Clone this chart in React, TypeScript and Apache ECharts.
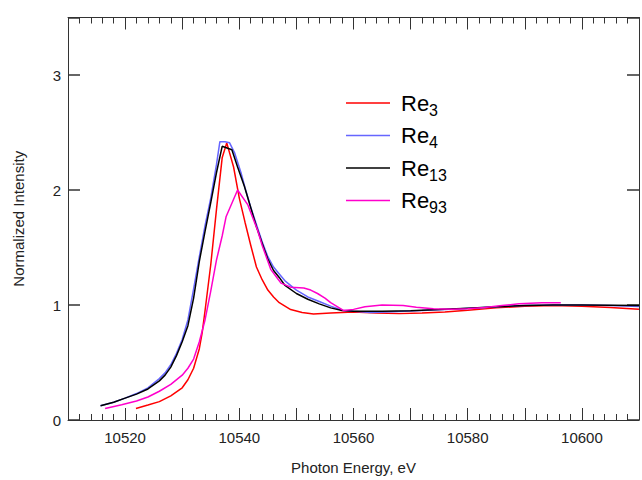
import React, { useEffect, useRef } from "react";
import * as echarts from "echarts";

const seriesNames = ["Re3", "Re4", "Re13", "Re93"];
const seriesColors = ["#ff0000", "#6666ff", "#000000", "#ff00cc"];

const re3Energy = [10521.9, 10524, 10526, 10528, 10530, 10531, 10532, 10533, 10533.5, 10534, 10535, 10536, 10537, 10537.8, 10539, 10540, 10541, 10542, 10543, 10544, 10545, 10546, 10547, 10549, 10551, 10553, 10556, 10560, 10564, 10568, 10572, 10576, 10580, 10585, 10590, 10595, 10600, 10605, 10610];
const re3Value = [0.1, 0.13, 0.16, 0.21, 0.28, 0.35, 0.45, 0.62, 0.76, 0.95, 1.35, 1.83, 2.28, 2.41, 2.2, 1.93, 1.72, 1.52, 1.33, 1.22, 1.13, 1.07, 1.02, 0.96, 0.935, 0.922, 0.93, 0.94, 0.93, 0.925, 0.93, 0.94, 0.955, 0.975, 0.99, 0.995, 0.99, 0.978, 0.962];

const re4Energy = [10515.7, 10518, 10520, 10522, 10524, 10526, 10527, 10528, 10529, 10530, 10531, 10532, 10533, 10534, 10535, 10536, 10536.6, 10537.5, 10538.3, 10539.2, 10540.3, 10541, 10542, 10543, 10544, 10545, 10546, 10547, 10548, 10550, 10552, 10554, 10556, 10558, 10560, 10563, 10568, 10572, 10577, 10582, 10586, 10590, 10595, 10600, 10605, 10610];
const re4Value = [0.124, 0.155, 0.19, 0.23, 0.28, 0.36, 0.41, 0.48, 0.58, 0.7, 0.87, 1.14, 1.42, 1.69, 1.93, 2.22, 2.42, 2.42, 2.41, 2.32, 2.15, 2.02, 1.85, 1.7, 1.55, 1.42, 1.33, 1.27, 1.21, 1.13, 1.07, 1.03, 0.99, 0.955, 0.945, 0.935, 0.943, 0.952, 0.964, 0.976, 0.987, 0.995, 1.0, 1.0, 0.995, 0.987];

const re13Energy = [10515.7, 10518, 10520, 10522, 10524, 10526, 10527, 10528, 10529, 10530, 10531, 10532, 10533, 10534, 10535, 10536, 10537, 10538.7, 10539.7, 10540.9, 10542.1, 10543, 10544.4, 10545, 10546, 10547, 10548, 10550, 10552, 10554, 10556, 10558, 10560, 10565, 10570, 10575, 10580, 10585, 10590, 10595, 10600, 10605, 10610];
const re13Value = [0.124, 0.155, 0.19, 0.225, 0.27, 0.34, 0.39, 0.46, 0.56, 0.68, 0.82, 1.06, 1.38, 1.64, 1.89, 2.15, 2.38, 2.35, 2.2, 2.03, 1.83, 1.68, 1.48, 1.4, 1.3, 1.24, 1.17, 1.1, 1.05, 1.01, 0.975, 0.952, 0.945, 0.945, 0.95, 0.96, 0.972, 0.985, 0.995, 1.0, 1.0, 0.998, 0.995];

const re93Energy = [10516.5, 10519.4, 10522, 10524, 10526, 10528, 10530, 10531, 10532, 10533, 10534, 10535, 10536, 10537, 10537.7, 10539.7, 10541.5, 10543.2, 10544, 10545.5, 10546.7, 10547.3, 10549, 10551.3, 10552.5, 10553.7, 10555, 10556, 10558.3, 10560, 10562, 10565, 10568.7, 10571, 10574, 10577.4, 10580, 10583, 10586, 10589, 10593, 10596.3];
const re93Value = [0.1, 0.133, 0.165, 0.2, 0.25, 0.31, 0.39, 0.45, 0.53, 0.68, 0.87, 1.12, 1.39, 1.6, 1.77, 2.0, 1.87, 1.65, 1.52, 1.31, 1.23, 1.19, 1.155, 1.147, 1.13, 1.1, 1.06, 1.02, 0.952, 0.962, 0.985, 1.0, 0.996, 0.98, 0.967, 0.964, 0.968, 0.978, 0.995, 1.01, 1.02, 1.02];

const energies = [re3Energy, re4Energy, re13Energy, re93Energy];
const values = [re3Value, re4Value, re13Value, re93Value];

const xLabels = [10520, 10540, 10560, 10580, 10600];
const yLabels = [0, 1, 2, 3];

const X_MIN = 10510;
const X_MAX = 10610;
const Y_MIN = 0;
const Y_MAX = 3.5;

const FONT = "Liberation Sans, Arial, sans-serif";
const AXIS_COLOR = "#333";
const TICK_COLOR = "#333";

// Axis that carries only the tick labels and the axis name (no line, no ticks)
function labelX() {
  return {
    type: "value",
    position: "bottom",
    min: X_MIN,
    max: X_MAX,
    interval: 10,
    splitLine: { show: false },
    axisLine: { show: false },
    axisTick: { show: false },
    minorTick: { show: false },
    axisLabel: {
      show: true,
      color: "#222",
      fontSize: 15,
      fontFamily: FONT,
      margin: 10,
      formatter: (v: number) => (xLabels.includes(v) ? String(v) : ""),
    },
    name: "Photon Energy, eV",
    nameLocation: "middle",
    nameGap: 40,
    nameTextStyle: { color: "#222", fontSize: 15, fontFamily: FONT },
  };
}

// Axis that carries only the line and the inward ticks
function tickX(position: string) {
  return {
    type: "value",
    position,
    min: X_MIN,
    max: X_MAX,
    interval: 10,
    splitLine: { show: false },
    axisLine: { show: true, onZero: false, lineStyle: { color: AXIS_COLOR } },
    axisTick: { show: true, inside: true, length: 12, lineStyle: { color: TICK_COLOR, width: 1 } },
    minorTick: { show: true, splitNumber: 5, length: 6, lineStyle: { color: TICK_COLOR, width: 1 } },
    axisLabel: { show: false },
  };
}

function labelY() {
  return {
    type: "value",
    position: "left",
    min: Y_MIN,
    max: Y_MAX,
    interval: 1,
    splitLine: { show: false },
    axisLine: { show: false },
    axisTick: { show: false },
    axisLabel: {
      show: true,
      color: "#222",
      fontSize: 15,
      fontFamily: FONT,
      margin: 7,
      formatter: (v: number) => (yLabels.includes(v) ? String(v) : ""),
    },
    name: "Normalized Intensity",
    nameLocation: "middle",
    nameGap: 42,
    nameTextStyle: { color: "#222", fontSize: 15, fontFamily: FONT },
  };
}

function tickY(position: string) {
  return {
    type: "value",
    position,
    min: Y_MIN,
    max: Y_MAX,
    interval: 1,
    splitLine: { show: false },
    axisLine: { show: true, onZero: false, lineStyle: { color: AXIS_COLOR } },
    axisTick: { show: true, inside: true, length: 12, lineStyle: { color: TICK_COLOR, width: 1.5 } },
    axisLabel: { show: false },
  };
}

export default function App() {
  const ref = useRef<HTMLDivElement>(null);
  useEffect(() => {
    if (!ref.current) return;
    const chart = echarts.init(ref.current, undefined, { renderer: "svg" });
    chart.setOption({
      animation: false,
      grid: { left: 68, top: 17.5, width: 575, height: 403 },
      xAxis: [labelX(), tickX("bottom"), tickX("top")],
      yAxis: [labelY(), tickY("left"), tickY("right")],
      legend: {
        orient: "vertical",
        left: 341,
        top: 83,
        icon: "rect",
        itemWidth: 44,
        itemHeight: 1.5,
        itemGap: 2.5,
        data: seriesNames,
        formatter: (name: string) => `{b|Re}{s|${name.slice(2)}}`,
        textStyle: {
          color: "#000",
          fontFamily: FONT,
          padding: [0, 0, 0, 6],
          rich: {
            b: { fontSize: 22, lineHeight: 26, fontFamily: FONT, color: "#000" },
            s: { fontSize: 16, lineHeight: 16, fontFamily: FONT, color: "#000", padding: [14, 0, 0, 0] },
          },
        },
      },
      series: seriesNames.map((name, i) => ({
        name,
        type: "line",
        xAxisIndex: 0,
        yAxisIndex: 0,
        symbol: "none",
        smooth: false,
        lineStyle: { color: seriesColors[i], width: 1.5 },
        itemStyle: { color: seriesColors[i] },
        data: energies[i].map((e, j) => [e, values[i][j]]),
      })),
    });
    return () => chart.dispose();
  }, []);
  return <div ref={ref} style={{ width: 642, height: 480, position: "absolute", left: 0, top: 0 }} />;
}
